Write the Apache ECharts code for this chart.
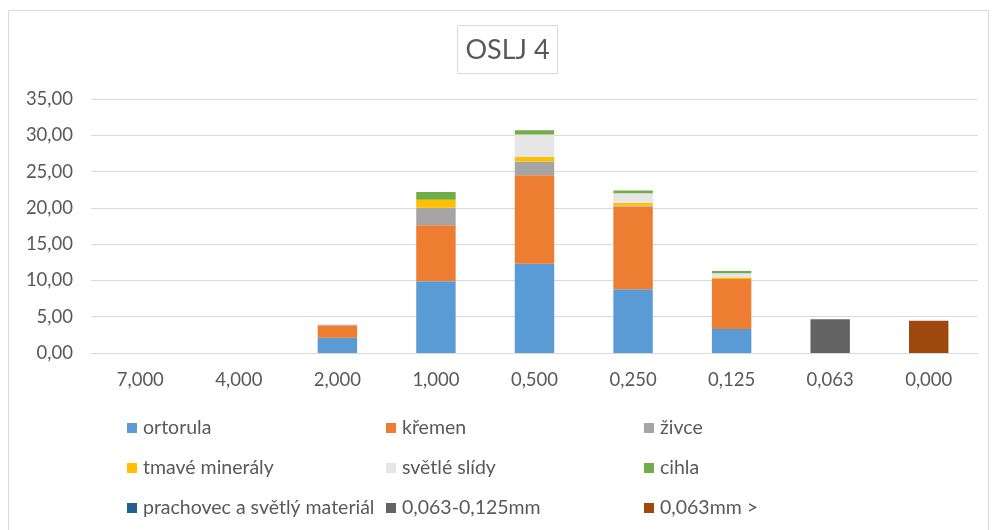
<!DOCTYPE html>
<html>
<head>
<meta charset="utf-8">
<script src="https://cdn.jsdelivr.net/npm/echarts@6/dist/echarts.min.js"></script>
<style>
  html, body { margin: 0; padding: 0; background: #ffffff; }
  #chart { width: 994px; height: 530px; }
</style>
</head>
<body>
<div id="chart"></div>
<script>
// Sieve fractions (mm)
var categories = ['7,000', '4,000', '2,000', '1,000', '0,500', '0,250', '0,125', '0,063', '0,000'];

// Stacked components per fraction
var ortorula       = [0, 0, 2.1, 9.9, 12.3, 8.8, 3.3, 0, 0];
var kremen         = [0, 0, 1.7, 7.7, 12.2, 11.4, 6.9, 0, 0];
var zivce          = [0, 0, 0.1, 2.4, 1.9, 0.1, 0, 0, 0];
var tmaveMineraly  = [0, 0, 0, 1.1, 0.6, 0.4, 0.2, 0, 0];
var svetleSlidy    = [0, 0, 0, 0, 3.1, 1.3, 0.6, 0, 0];
var cihla          = [0, 0, 0, 1.1, 0.6, 0.4, 0.3, 0, 0];
var prachovec      = [0, 0, 0, 0, 0, 0, 0, 0, 0];
var frakce063_125  = [0, 0, 0, 0, 0, 0, 0, 4.65, 0];
var frakce063      = [0, 0, 0, 0, 0, 0, 0, 0, 4.45];

var yTicks = { min: 0, max: 35, interval: 5 };

var seriesNames = ['ortorula', 'křemen', 'živce', 'tmavé minerály', 'světlé slídy', 'cihla',
                   'prachovec a světlý materiál', '0,063-0,125mm', '0,063mm >'];
var seriesData = [ortorula, kremen, zivce, tmaveMineraly, svetleSlidy, cihla,
                  prachovec, frakce063_125, frakce063];
var seriesColors = ['#5B9BD5', '#ED7D31', '#A5A5A5', '#FFC000', '#E7E6E6', '#70AD47',
                    '#255E91', '#636363', '#9E480E'];

var FONT = 'Lato, "Liberation Sans", sans-serif';
var TEXT = '#595959';

var chart = echarts.init(document.getElementById('chart'), null, { renderer: 'canvas' });

var series = seriesNames.map(function (name, i) {
  return {
    name: name,
    type: 'bar',
    stack: 'total',
    barWidth: '40%',
    itemStyle: { color: seriesColors[i] },
    emphasis: { disabled: true },
    data: seriesData[i]
  };
});

// three legend columns, three rows each
function legendColumn(left, names) {
  return {
    orient: 'vertical',
    left: left,
    top: 416,
    bottom: 0,
    padding: 0,
    itemWidth: 10,
    itemHeight: 10,
    itemGap: 16,
    icon: 'rect',
    textStyle: { color: TEXT, fontSize: 19.5, fontFamily: FONT, lineHeight: 24, padding: [0, 0, 0, 1] },
    data: names
  };
}

chart.setOption({
  animation: false,
  backgroundColor: '#ffffff',
  graphic: [
    { type: 'rect', shape: { x: 8.5, y: 10.5, width: 980, height: 540 },
      style: { fill: 'none', stroke: '#d9d9d9', lineWidth: 1 }, silent: true },
    { type: 'rect', shape: { x: 457.5, y: 25.5, width: 100, height: 48 },
      style: { fill: '#ffffff', stroke: '#d9d9d9', lineWidth: 1 }, silent: true },
    { type: 'text', x: 507.5, y: 50,
      style: { text: 'OSLJ 4', fill: TEXT, font: '27px ' + FONT, align: 'center', verticalAlign: 'middle' },
      silent: true }
  ],
  legend: [
    legendColumn(127, [seriesNames[0], seriesNames[3], seriesNames[6]]),
    legendColumn(386, [seriesNames[1], seriesNames[4], seriesNames[7]]),
    legendColumn(644, [seriesNames[2], seriesNames[5], seriesNames[8]])
  ],
  grid: { left: 91, right: 16, top: 99, bottom: 177, containLabel: false },
  xAxis: {
    type: 'category',
    data: categories,
    axisLine: { show: true, lineStyle: { color: '#d9d9d9', width: 1 } },
    axisTick: { show: false },
    axisLabel: { color: TEXT, fontSize: 18.5, fontFamily: FONT, margin: 18 }
  },
  yAxis: {
    type: 'value',
    min: yTicks.min,
    max: yTicks.max,
    interval: yTicks.interval,
    axisLine: { show: false },
    axisTick: { show: false },
    splitLine: { lineStyle: { color: '#d9d9d9', width: 1 } },
    axisLabel: {
      color: TEXT, fontSize: 18.5, fontFamily: FONT, margin: 18,
      formatter: function (v) { return v.toFixed(2).replace('.', ','); }
    }
  },
  series: series
});
</script>
</body>
</html>
